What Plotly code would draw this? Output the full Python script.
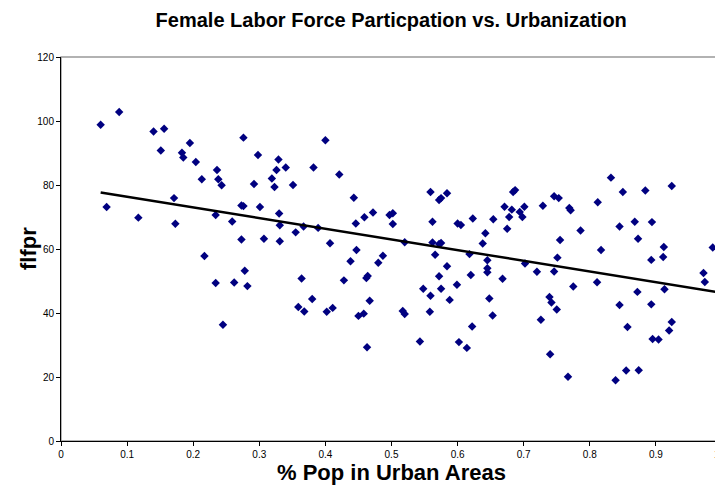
import numpy as np
import plotly.graph_objects as go

# % population in urban areas vs female labor force participation rate
urban = [
    0.060, 0.088, 0.140, 0.156, 0.151, 0.195, 0.183, 0.185, 0.204, 0.236,
    0.213, 0.238, 0.243, 0.171, 0.069, 0.117, 0.173, 0.234, 0.217,
    0.276, 0.400, 0.298, 0.329, 0.326, 0.340, 0.382, 0.421, 0.319, 0.292,
    0.323, 0.351, 0.443, 0.273, 0.276, 0.301, 0.330, 0.472, 0.459, 0.497,
    0.259, 0.446, 0.331, 0.367, 0.389, 0.355, 0.273, 0.307, 0.331, 0.407,
    0.447, 0.487,
    0.438, 0.480, 0.278, 0.262, 0.282, 0.364, 0.428, 0.462, 0.464, 0.380,
    0.359, 0.368, 0.402, 0.411, 0.467, 0.450, 0.458, 0.463, 0.245, 0.234,
    0.559, 0.584, 0.572, 0.575, 0.687, 0.684, 0.502, 0.502, 0.562, 0.600,
    0.605, 0.623, 0.654, 0.671, 0.682, 0.701, 0.678, 0.694, 0.698, 0.729,
    0.675, 0.642, 0.520, 0.562, 0.572, 0.575, 0.638, 0.566, 0.618,
    0.645, 0.645, 0.645, 0.584, 0.572, 0.620, 0.668, 0.702, 0.720, 0.746,
    0.548, 0.559, 0.575, 0.599, 0.588, 0.648, 0.517, 0.520, 0.558, 0.653,
    0.622, 0.543, 0.602, 0.614, 0.739, 0.742, 0.726, 0.740,
    0.832, 0.746, 0.753, 0.850, 0.884, 0.924, 0.812, 0.769, 0.771, 0.786,
    0.845, 0.868, 0.894, 0.873, 0.755, 0.817, 0.912, 0.986, 0.751, 0.911,
    0.893, 0.998, 0.775, 0.811, 0.872, 0.913, 0.972, 0.974, 0.750, 0.845,
    0.893, 0.857, 0.924, 0.920, 0.895, 0.904, 0.767, 0.855, 0.874, 0.839,
]
flfpr = [
    98.8, 102.8, 96.7, 97.6, 90.8, 93.1, 90.1, 88.6, 87.2, 84.7,
    81.8, 81.8, 79.9, 75.9, 73.1, 69.8, 67.9, 70.6, 57.8,
    94.8, 94.0, 89.4, 88.0, 84.7, 85.5, 85.5, 83.3, 82.0, 80.3,
    79.4, 80.0, 76.0, 73.6, 73.4, 73.1, 71.1, 71.4, 69.9, 70.6,
    68.6, 68.0, 67.4, 67.0, 66.6, 65.2, 63.0, 63.2, 62.4, 61.8,
    59.7, 57.9,
    56.2, 55.7, 53.2, 49.5, 48.4, 50.8, 50.2, 50.9, 51.6, 44.4,
    41.9, 40.5, 40.4, 41.6, 43.8, 39.1, 39.8, 29.3, 36.3, 49.4,
    77.8, 77.4, 75.3, 75.9, 78.4, 77.8, 71.2, 67.8, 68.5, 68.0,
    67.5, 69.5, 69.3, 73.2, 72.3, 73.2, 70.0, 71.6, 70.0, 73.5,
    66.3, 64.9, 62.1, 62.0, 61.6, 61.9, 61.7, 58.2, 58.4,
    56.5, 54.0, 52.7, 54.6, 51.5, 51.9, 50.7, 55.5, 52.9, 53.0,
    47.6, 45.4, 47.6, 48.8, 44.1, 44.5, 40.6, 39.7, 40.4, 39.2,
    35.8, 31.1, 30.9, 29.1, 45.0, 43.3, 37.9, 27.1,
    82.3, 76.5, 75.9, 77.8, 78.3, 79.7, 74.6, 72.8, 72.1, 65.8,
    67.0, 68.5, 68.4, 63.2, 62.8, 59.7, 60.6, 60.5, 57.3, 57.5,
    56.6, 55.3, 48.3, 49.6, 46.6, 47.4, 52.5, 49.7, 41.1, 42.5,
    42.7, 35.6, 37.2, 34.5, 31.9, 31.7, 20.1, 22.0, 22.1, 19.0,
]

x_ticks = [0, 0.1, 0.2, 0.3, 0.4, 0.5, 0.6, 0.7, 0.8, 0.9, 1]
y_ticks = [0, 20, 40, 60, 80, 100, 120]

# linear trendline (least squares) over the data range
slope, intercept = np.polyfit(urban, flfpr, 1)
trend_x = np.array([min(urban), max(urban)])
trend_y = intercept + slope * trend_x

font = "Liberation Sans, Arial, sans-serif"

fig = go.Figure()
fig.add_trace(go.Scatter(
    x=urban, y=flfpr, mode="markers",
    marker=dict(symbol="diamond", size=6.5, color="#000080"),
    showlegend=False,
))
fig.add_trace(go.Scatter(
    x=trend_x, y=trend_y, mode="lines",
    line=dict(color="black", width=2.5),
    showlegend=False,
))

# light grey frame of the plot area (top/right)
fig.add_shape(type="rect", xref="paper", yref="paper", x0=0, y0=0, x1=1, y1=1,
              line=dict(color="#999999", width=1.5), layer="below")

# last x tick label sits on the page edge, plotly would drop it
fig.add_annotation(x=1, xref="paper", y=0, yref="paper", yshift=-6,
                   text=str(x_ticks[-1]), showarrow=False,
                   xanchor="right", yanchor="top",
                   font=dict(size=10, color="black"))

# y axis title placed by hand (axis title standoff is ignored here)
fig.add_annotation(x=0, xref="paper", y=0.5, yref="paper", xshift=-33,
                   text="<b>flfpr</b>", textangle=-90, showarrow=False,
                   xanchor="center", yanchor="middle",
                   font=dict(size=22, color="black"))

# page body has an 8px margin, so the figure is 8px smaller than the window
fig.update_layout(
    width=715, height=481,
    margin=dict(l=53, r=1, t=49, b=48),
    paper_bgcolor="white", plot_bgcolor="white",
    font=dict(family=font, color="black"),
    title=dict(text="<b>Female Labor Force Particpation vs. Urbanization</b>",
               x=0.536, xanchor="center", y=0.975, yanchor="middle",
               font=dict(size=20, family=font, color="black")),
    xaxis=dict(
        range=[0, 1], tickvals=x_ticks[:-1], ticktext=[str(v) for v in x_ticks[:-1]],
        showgrid=False, zeroline=False, showline=True, linecolor="black", linewidth=1,
        ticks="outside", ticklen=4, tickcolor="black",
        tickfont=dict(size=10),
        title=dict(text="<b>% Pop in Urban Areas</b>", font=dict(size=22), standoff=0),
    ),
    yaxis=dict(
        range=[0, 120], tickvals=y_ticks,
        showgrid=False, zeroline=False, showline=True, linecolor="black", linewidth=1,
        ticks="outside", ticklen=4, tickcolor="black",
        tickfont=dict(size=10),
    ),
)

fig.write_html("out.html")
